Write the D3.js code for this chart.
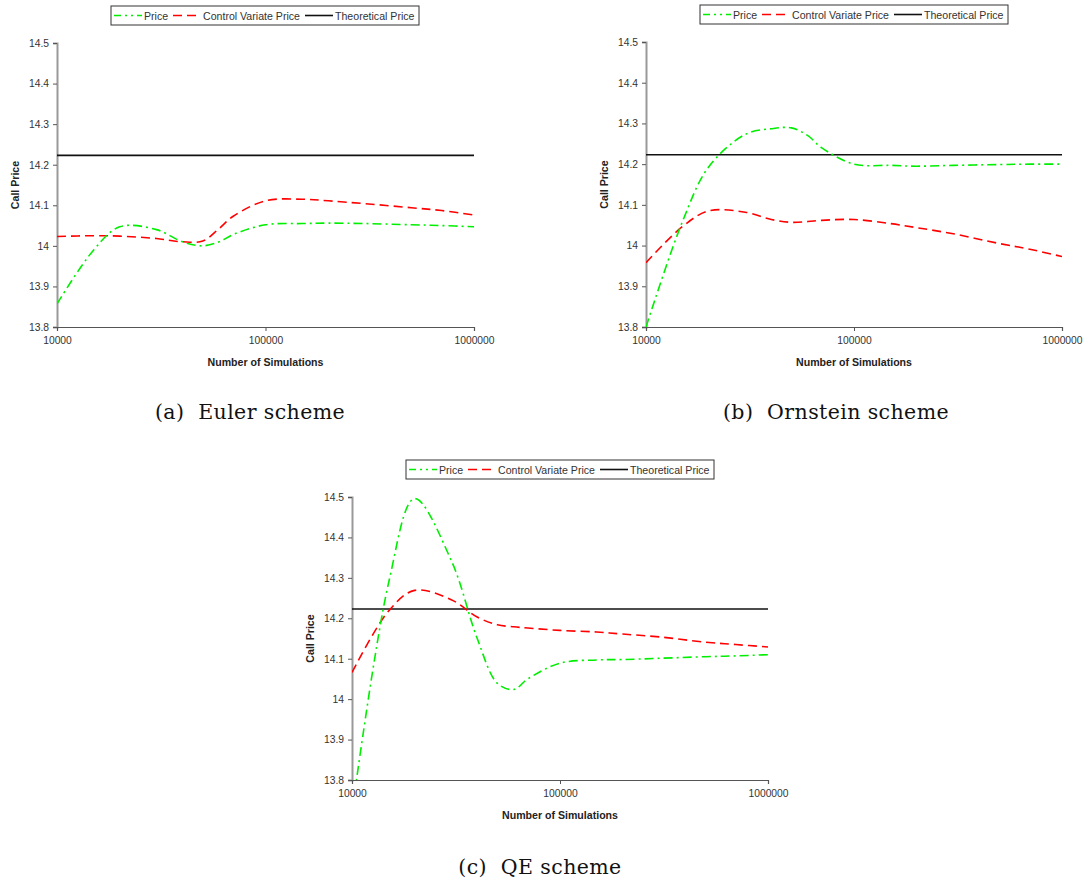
<!DOCTYPE html>
<html lang="en">
<head>
<meta charset="UTF-8">
<title>Call price convergence</title>
<script src="https://cdn.jsdelivr.net/npm/d3@7"></script>
<style>
  body { margin: 0; background: #fff; }
  svg { display: block; font-family: "Liberation Sans", Arial, sans-serif; }
  .caption { font-family: "DejaVu Serif", serif; letter-spacing: 0.4px; }
</style>
</head>
<body>
<div id="chart"></div>
<script>
// number of simulations (x values)
const sims = [10000, 15000, 20000, 30000, 40000, 50000, 60000, 70000, 100000, 150000, 200000, 300000, 500000, 700000, 1000000];

const eulerPrice = [13.857, 13.99, 14.047, 14.04, 14.01, 14.0, 14.01, 14.028, 14.052, 14.055, 14.056, 14.055, 14.052, 14.05, 14.047];
const eulerCV = [14.023, 14.025, 14.024, 14.018, 14.01, 14.012, 14.043, 14.073, 14.111, 14.115, 14.111, 14.104, 14.094, 14.087, 14.076];

const ornsteinPrice = [13.8, 14.06, 14.193, 14.273, 14.287, 14.289, 14.27, 14.24, 14.2, 14.197, 14.195, 14.197, 14.199, 14.2, 14.2];
const ornsteinCV = [13.958, 14.047, 14.085, 14.082, 14.064, 14.057, 14.059, 14.062, 14.064, 14.054, 14.044, 14.029, 14.005, 13.991, 13.973];

const qePrice = [13.72, 14.288, 14.496, 14.343, 14.15, 14.039, 14.024, 14.05, 14.089, 14.097, 14.098, 14.101, 14.105, 14.107, 14.11];
const qeCV = [14.066, 14.218, 14.269, 14.246, 14.203, 14.184, 14.179, 14.176, 14.17, 14.166, 14.161, 14.154, 14.141, 14.135, 14.129];

const theoreticalPrice = 14.223;

const xTicks = [10000, 100000, 1000000];
const yTicks = [13.8, 13.9, 14, 14.1, 14.2, 14.3, 14.4, 14.5];
const legendLabels = ["Price", "Control Variate Price", "Theoretical Price"];

const panels = [
  { id: "a", caption: "(a)  Euler scheme", price: eulerPrice, cv: eulerCV,
    left: 57, right: 474, top: 43, bottom: 327, legendX: 111, legendY: 6, yLabelX: 15, capX: 250, capY: 419 },
  { id: "b", caption: "(b)  Ornstein scheme", price: ornsteinPrice, cv: ornsteinCV,
    left: 646, right: 1062, top: 42, bottom: 327, legendX: 700, legendY: 5, yLabelX: 604, capX: 836, capY: 419 },
  { id: "c", caption: "(c)  QE scheme", price: qePrice, cv: qeCV,
    left: 352, right: 768, top: 497, bottom: 780, legendX: 406, legendY: 460, yLabelX: 310, capX: 540, capY: 874 }
];

const width = 1088, height = 884;
const svg = d3.select("#chart").append("svg")
  .attr("width", width)
  .attr("height", height);

const greenDash = "9,4,2,4";
const redDash = "9,5";

panels.forEach(p => {
  const x = d3.scaleLog().domain([10000, 1000000]).range([p.left, p.right]);
  const y = d3.scaleLinear().domain([13.8, 14.5]).range([p.bottom, p.top]);
  const g = svg.append("g");

  // y axis
  g.append("g")
    .attr("transform", `translate(${p.left},0)`)
    .call(d3.axisLeft(y).tickValues(yTicks).tickFormat(d3.format("")).tickSize(4).tickPadding(4))
    .call(a => a.select(".domain").attr("stroke", "#999").attr("stroke-width", 2))
    .call(a => a.selectAll(".tick line").attr("stroke", "#555"))
    .call(a => a.selectAll(".tick text").attr("fill", "#333")
      .attr("font-size", 10.3).attr("font-family", null));

  // x axis
  g.append("g")
    .attr("transform", `translate(0,${p.bottom})`)
    .call(d3.axisBottom(x).tickValues(xTicks).tickFormat(d3.format("d")).tickSize(4).tickPadding(6))
    .call(a => a.select(".domain").attr("stroke", "#555").attr("stroke-width", 1.2))
    .call(a => a.selectAll(".tick line").attr("stroke", "#555"))
    .call(a => a.selectAll(".tick text").attr("fill", "#333")
      .attr("font-size", 10.3).attr("font-family", null));

  g.append("text")
    .attr("x", (p.left + p.right) / 2)
    .attr("y", p.bottom + 39)
    .attr("text-anchor", "middle")
    .attr("font-size", 10.6)
    .attr("font-weight", "bold")
    .attr("fill", "#222")
    .text("Number of Simulations");

  g.append("text")
    .attr("transform", `translate(${p.yLabelX + 4},${(p.top + p.bottom) / 2}) rotate(-90)`)
    .attr("text-anchor", "middle")
    .attr("font-size", 10.6)
    .attr("font-weight", "bold")
    .attr("fill", "#222")
    .text("Call Price");

  // clip to plot area
  g.append("clipPath").attr("id", "clip-" + p.id)
    .append("rect")
    .attr("x", p.left).attr("y", p.top - 2)
    .attr("width", p.right - p.left).attr("height", p.bottom - p.top + 2);

  const line = d3.line()
    .x(d => x(d[0]))
    .y(d => y(d[1]))
    .curve(d3.curveCatmullRom.alpha(0.5));

  const plot = g.append("g").attr("clip-path", `url(#clip-${p.id})`);

  plot.append("line")
    .attr("x1", x(10000)).attr("x2", x(1000000))
    .attr("y1", y(theoreticalPrice)).attr("y2", y(theoreticalPrice))
    .attr("stroke", "#111").attr("stroke-width", 1.6);

  plot.append("path")
    .datum(d3.zip(sims, p.cv))
    .attr("d", line)
    .attr("fill", "none")
    .attr("stroke", "#ff0000")
    .attr("stroke-width", 1.6)
    .attr("stroke-dasharray", redDash);

  plot.append("path")
    .datum(d3.zip(sims, p.price))
    .attr("d", line)
    .attr("fill", "none")
    .attr("stroke", "#00ee00")
    .attr("stroke-width", 1.6)
    .attr("stroke-dasharray", greenDash);

  // legend
  const lg = g.append("g").attr("transform", `translate(${p.legendX},${p.legendY})`);
  lg.append("rect")
    .attr("width", 308).attr("height", 19)
    .attr("fill", "#fff").attr("stroke", "#333").attr("stroke-width", 1);
  const items = [
    { label: legendLabels[0], color: "#00ee00", dash: "7,4,2,4,2,4", sx: 3, tx: 33 },
    { label: legendLabels[1], color: "#ff0000", dash: redDash, sx: 62, tx: 92 },
    { label: legendLabels[2], color: "#111", dash: null, sx: 194, tx: 224 }
  ];
  items.forEach(it => {
    lg.append("line")
      .attr("x1", it.sx).attr("x2", it.sx + 28)
      .attr("y1", 9.5).attr("y2", 9.5)
      .attr("stroke", it.color).attr("stroke-width", 1.6)
      .attr("stroke-dasharray", it.dash);
    lg.append("text")
      .attr("x", it.tx).attr("y", 13.5)
      .attr("font-size", 10.6)
      .attr("fill", "#333")
      .text(it.label);
  });

  // caption
  svg.append("text")
    .attr("class", "caption")
    .attr("x", p.capX).attr("y", p.capY)
    .attr("text-anchor", "middle")
    .attr("font-size", 20.5)
    .attr("fill", "#111")
    .style("white-space", "pre")
    .text(p.caption);
});
</script>
</body>
</html>
